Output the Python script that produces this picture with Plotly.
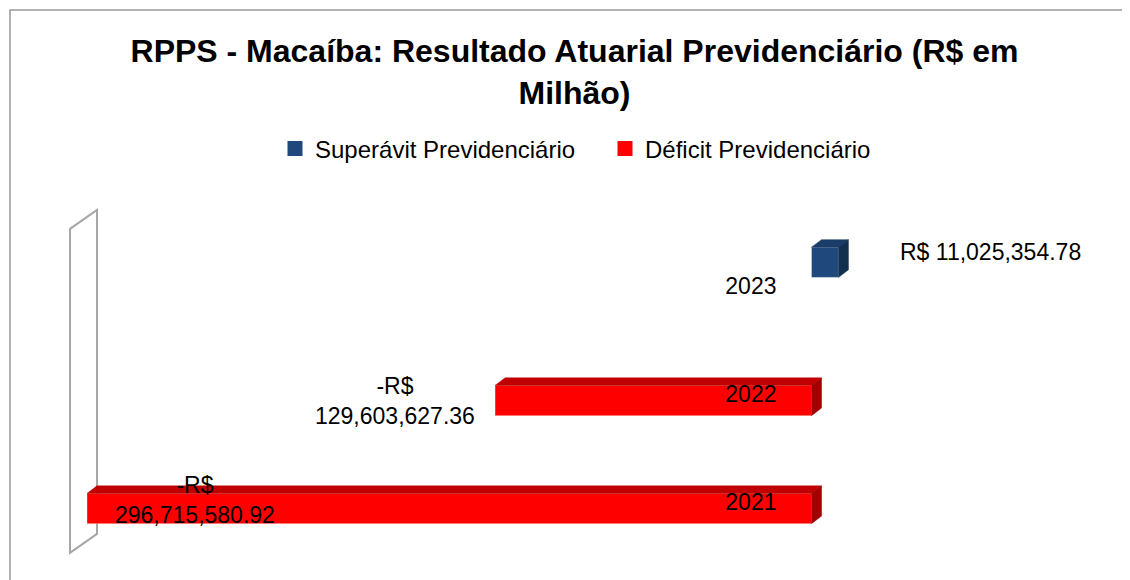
import plotly.graph_objects as go

# ---------------- data ----------------
years = ["2021", "2022", "2023"]
superavit = [None, None, 11025354.78]
deficit = [-296715580.92, -129603627.36, None]
series_names = ["Superávit Previdenciário", "Déficit Previdenciário"]

# ---------------- style ----------------
FONT = "Liberation Sans, Arial, sans-serif"
BLUE = dict(front="#1F497D", top="#1A3C68", side="#14304F")
RED = dict(front="#FF0000", top="#C00000", side="#A00000")
BAR_W = 0.28            # bar thickness in category units
DEPTH_X = 4.1e6         # 3D depth offset (x, data units)
DEPTH_Y = 0.07          # 3D depth offset (y, category units)
X_RANGE = [-307.77e6, 114.06e6]
Y_RANGE = [-0.709, 2.717]
# page body has an 8px margin, so the figure is laid out 8px smaller/shifted
W_FIG, H_FIG = 1122, 572
L, T, B = 52, 192, 10
R = W_FIG - L - 1030

positions = list(range(len(years)))

fig = go.Figure()


def add_bar(values, color, offset, name):
    fig.add_trace(go.Bar(
        y=positions, x=values, orientation="h", width=BAR_W, offset=offset,
        marker=dict(color=color["front"], line=dict(color="rgba(255,255,255,0.35)", width=1)),
        name=name, showlegend=False, hoverinfo="skip"))


def add_faces(values, color, offset):
    for p, v in zip(positions, values):
        if v is None:
            continue
        x0, x1 = sorted([0, v])
        yb = p + offset
        yt = yb + BAR_W
        top_x = [x0, x0 + DEPTH_X, x1 + DEPTH_X, x1, x0]
        top_y = [yt, yt + DEPTH_Y, yt + DEPTH_Y, yt, yt]
        side_x = [x1, x1, x1 + DEPTH_X, x1 + DEPTH_X, x1]
        side_y = [yb, yt, yt + DEPTH_Y, yb + DEPTH_Y, yb]
        for fx, fy, c in ((top_x, top_y, color["top"]), (side_x, side_y, color["side"])):
            fig.add_trace(go.Scatter(x=fx, y=fy, fill="toself", fillcolor=c, mode="lines",
                                     line=dict(color=c, width=0.5), showlegend=False,
                                     hoverinfo="skip"))


# Déficit bars sit in the lower half of each category slot, Superávit in the upper half
add_bar(deficit, RED, -BAR_W, series_names[1])
add_bar(superavit, BLUE, 0.0, series_names[0])
add_faces(deficit, RED, -BAR_W)
add_faces(superavit, BLUE, 0.0)

# legend entries
for name, col in ((series_names[0], BLUE["front"]), (series_names[1], RED["front"])):
    fig.add_trace(go.Scatter(x=[None], y=[None], mode="markers", name=name,
                             marker=dict(symbol="square", size=15, color=col)))

# 3D side wall at the axis minimum
all_vals = [v for v in deficit + superavit if v is not None]
wall_back = min(all_vals) + DEPTH_X
wall_front = wall_back - 11.06e6
WY0, WY1, WDY = -0.55, 2.45, 0.175
fig.add_shape(type="path", xref="x", yref="y", layer="below",
              path=(f"M {wall_front},{WY0} L {wall_front},{WY1} L {wall_back},{WY1 + WDY} "
                    f"L {wall_back},{WY0 + WDY} Z"),
              line=dict(color="#A6A6A6", width=2), fillcolor="white")

# data labels
label_shift = {0: (108, 9), 1: (-100, 0), 2: (152, 10)}


def fmt(v):
    if v < 0:
        return f"-R$<br>{abs(v):,.2f}"
    return f"R$ {v:,.2f}"


for p, (d, s) in enumerate(zip(deficit, superavit)):
    if d is not None:
        val, yc = d, p - BAR_W / 2
    else:
        val, yc = s, p + BAR_W / 2
    xs, ys = label_shift[p]
    fig.add_annotation(x=val, y=yc, text=fmt(val), showarrow=False, xanchor="center",
                       yanchor="middle", xshift=xs, yshift=ys,
                       font=dict(family=FONT, size=23, color="black"))

# chart border (top and left edges visible; right/bottom run off the page)
pw, ph = W_FIG - L - R, H_FIG - T - B
fig.add_shape(type="rect", xref="paper", yref="paper",
              x0=(2 - L) / pw, x1=(W_FIG + 20 - L) / pw,
              y0=(H_FIG - B - (H_FIG + 20)) / ph, y1=(H_FIG - B - 2) / ph,
              line=dict(color="#999999", width=1.5), fillcolor="rgba(0,0,0,0)")

zero_frac = (0 - X_RANGE[0]) / (X_RANGE[1] - X_RANGE[0])

fig.update_layout(
    width=W_FIG, height=H_FIG,
    margin=dict(l=L, r=R, t=T, b=B, autoexpand=False),
    paper_bgcolor="white", plot_bgcolor="white",
    title=dict(text="RPPS - Macaíba: Resultado Atuarial Previdenciário (R$ em<br>Milhão)",
               x=566.5 / W_FIG, xanchor="center", xref="container",
               y=1 - 54 / H_FIG, yanchor="top", yref="container",
               font=dict(family=FONT, size=32, color="black", weight="bold")),
    legend=dict(orientation="h", x=(267 - L) / pw, xanchor="left",
                y=(H_FIG - B - 141) / ph, yanchor="middle",
                font=dict(family=FONT, size=24, color="black"),
                entrywidth=285, entrywidthmode="pixels", bgcolor="rgba(0,0,0,0)"),
    xaxis=dict(range=X_RANGE, showgrid=False, zeroline=False, showticklabels=False,
               showline=False, ticks="", fixedrange=True, automargin=False),
    yaxis=dict(range=Y_RANGE, showgrid=False, zeroline=False, showline=False,
               anchor="free", position=zero_frac, tickmode="array",
               tickvals=positions, ticktext=years, ticks="",
               ticklabelstandoff=35, ticklabelshift=9, automargin=False,
               tickfont=dict(family=FONT, size=23, color="black"), fixedrange=True),
    showlegend=True,
    hovermode=False,
)

fig.write_html("out.html")
